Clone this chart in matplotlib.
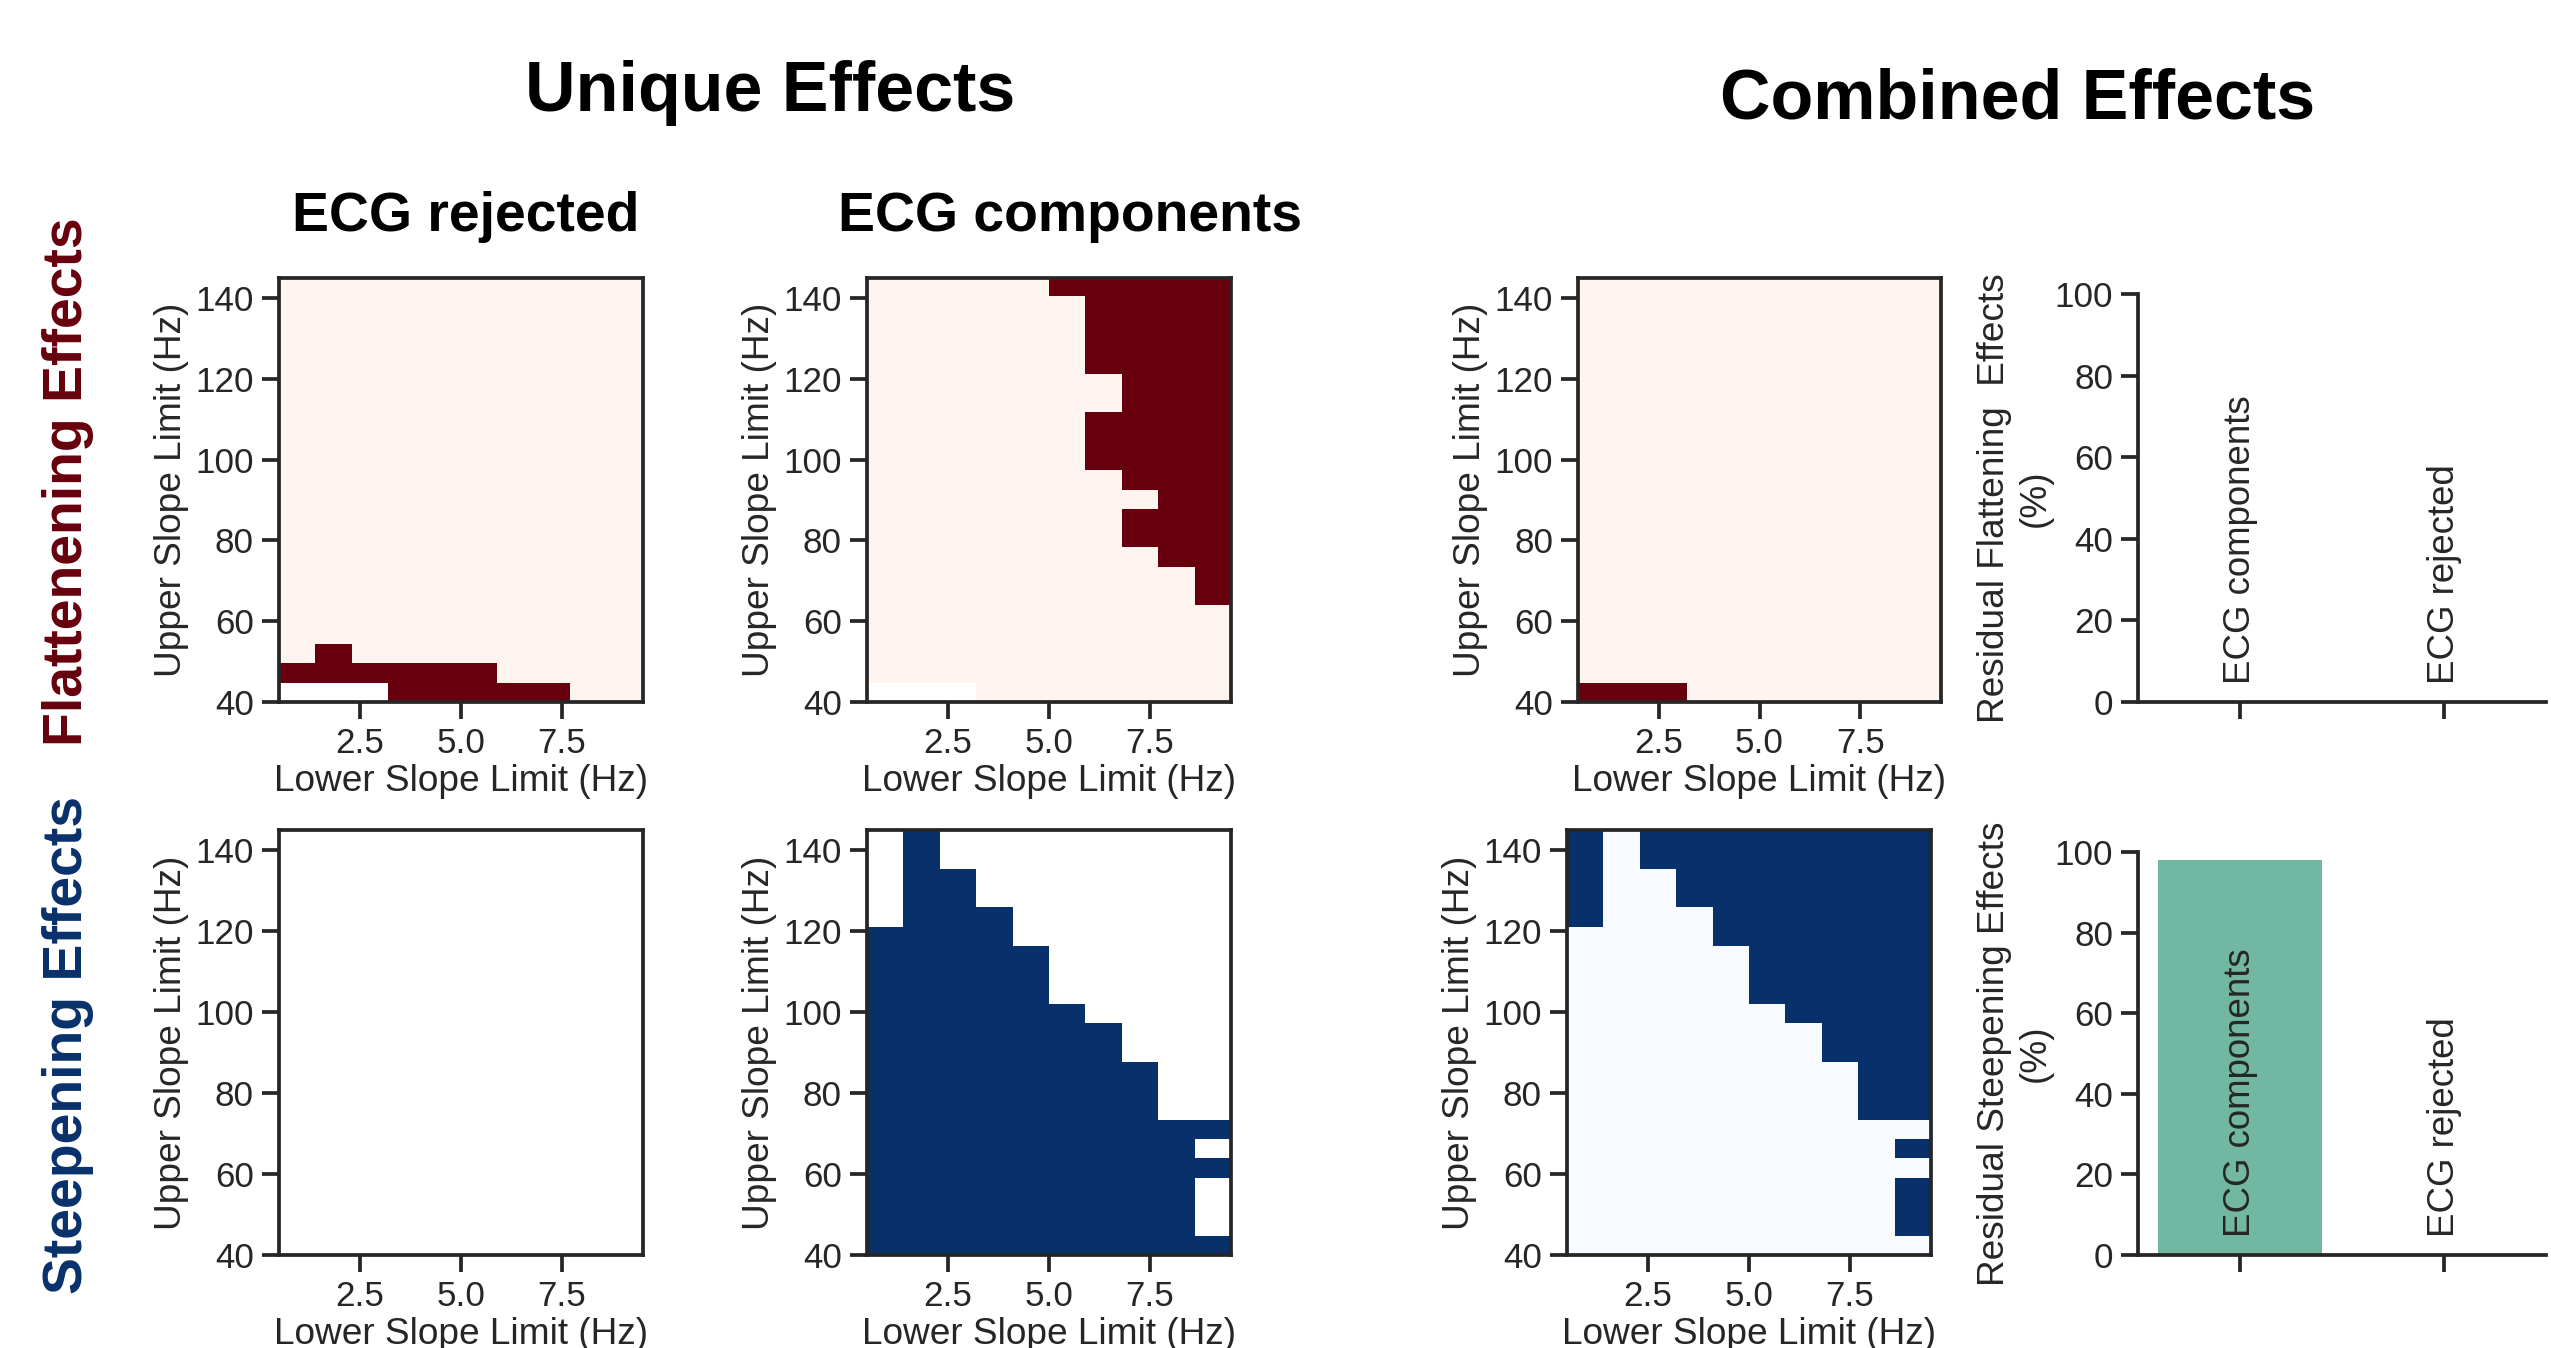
import numpy as np
import matplotlib
matplotlib.use("Agg")
import matplotlib.pyplot as plt

plt.rcParams["font.family"] = ["Liberation Sans", "DejaVu Sans"]

# slope-limit grids: first string = top row (145 Hz), '1' effect, '0' none, '.' no data
LOWER_RANGE = [0.5, 9.5]
UPPER_RANGE = [40, 145]
X_TICKS = [2.5, 5.0, 7.5]
Y_TICKS = [40, 60, 80, 100, 120, 140]

FLAT_REJECTED = ["0000000000"] * 19 + [
    "0100000000",
    "1111110000",
    "...1111100",
]

FLAT_COMPONENTS = [
    "0000011111",
    "0000001111",
    "0000001111",
    "0000001111",
    "0000001111",
    "0000000111",
    "0000000111",
    "0000001111",
    "0000001111",
    "0000001111",
    "0000000111",
    "0000000011",
    "0000000111",
    "0000000111",
    "0000000011",
    "0000000001",
    "0000000001",
    "0000000000",
    "0000000000",
    "0000000000",
    "0000000000",
    "...0000000",
]

FLAT_COMBINED = ["0000000000"] * 21 + ["1110000000"]

STEEP_REJECTED = [".........."] * 22

STEEP_COMPONENTS = [
    ".1........",
    ".1........",
    ".11.......",
    ".11.......",
    ".111......",
    "1111......",
    "11111.....",
    "11111.....",
    "11111.....",
    "111111....",
    "1111111...",
    "1111111...",
    "11111111..",
    "11111111..",
    "11111111..",
    "1111111111",
    "111111111.",
    "1111111111",
    "111111111.",
    "111111111.",
    "111111111.",
    "1111111111",
]

STEEP_COMBINED = [
    "1011111111",
    "1011111111",
    "1001111111",
    "1001111111",
    "1000111111",
    "0000111111",
    "0000011111",
    "0000011111",
    "0000011111",
    "0000001111",
    "0000000111",
    "0000000111",
    "0000000011",
    "0000000011",
    "0000000011",
    "0000000000",
    "0000000001",
    "0000000000",
    "0000000001",
    "0000000001",
    "0000000001",
    "0000000000",
]

BAR_NAMES = ["ECG components", "ECG rejected"]
RESID_FLAT = [0, 0]
RESID_STEEP = [98, 0]

INK = "#262626"
BAR_COLOR = "#71b7a1"


def to_grid(rows):
    vals = {"1": 1.0, "0": 0.0, ".": np.nan}
    return np.array([[vals[ch] for ch in r] for r in rows[::-1]])


W, H = 2551, 1348
fig = plt.figure(figsize=(W / 300, H / 300), dpi=300)


def frac(left, top, right, bottom):
    return [left / W, 1 - bottom / H, (right - left) / W, (bottom - top) / H]


def style_axes(ax):
    for sp in ax.spines.values():
        sp.set_color(INK)
        sp.set_linewidth(0.9)
    ax.tick_params(direction="out", length=4, width=0.9, pad=2,
                   colors=INK, labelsize=8.4)


def heatmap(pos, rows, cmap):
    ax = fig.add_axes(frac(*pos))
    ax.imshow(to_grid(rows), origin="lower", aspect="auto", cmap=cmap,
              vmin=0, vmax=1, interpolation="nearest",
              extent=LOWER_RANGE + UPPER_RANGE)
    ax.set_xlim(*LOWER_RANGE)
    ax.set_ylim(*UPPER_RANGE)
    ax.set_xticks(X_TICKS)
    ax.set_yticks(Y_TICKS)
    ax.set_xlabel("Lower Slope Limit (Hz)", fontsize=8.9, color=INK, labelpad=1.0)
    ax.set_ylabel("Upper Slope Limit (Hz)", fontsize=8.9, color=INK, labelpad=1.5)
    style_axes(ax)
    return ax


def barplot(pos, values, ylabel):
    ax = fig.add_axes(frac(*pos))
    ax.bar(range(len(values)), values, width=0.8, color=BAR_COLOR)
    for i, name in enumerate(BAR_NAMES):
        ax.text(i, 4.5, name, rotation=90, ha="center", va="bottom",
                fontsize=8.8, color=INK)
    ax.set_xlim(-0.5, 1.5)
    ax.set_ylim(0, 100)
    ax.set_xticks(range(len(values)))
    ax.set_xticklabels([])
    ax.set_yticks([0, 20, 40, 60, 80, 100])
    ax.spines["top"].set_visible(False)
    ax.spines["right"].set_visible(False)
    ax.set_ylabel(ylabel, fontsize=8.9, color=INK)
    ax.yaxis.set_label_coords(-0.21, 0.5)
    style_axes(ax)
    return ax


heatmap((279, 278, 643, 702), FLAT_REJECTED, "Reds")
heatmap((867, 278, 1231, 702), FLAT_COMPONENTS, "Reds")
heatmap((1578, 278, 1941, 702), FLAT_COMBINED, "Reds")
heatmap((279, 830, 643, 1255), STEEP_REJECTED, "Blues")
heatmap((867, 830, 1231, 1255), STEEP_COMPONENTS, "Blues")
heatmap((1567, 830, 1931, 1255), STEEP_COMBINED, "Blues")

barplot((2138, 294, 2546, 702), RESID_FLAT, "Residual Flattening  Effects\n(%)")
barplot((2138, 852, 2546, 1255), RESID_STEEP, "Residual Steepening Effects\n(%)")

fig.text(0.3018, 0.918, "Unique Effects", fontsize=16.8, fontweight="bold",
         ha="center", va="baseline")
fig.text(0.7908, 0.912, "Combined Effects", fontsize=16.8, fontweight="bold",
         ha="center", va="baseline")
fig.text(0.1824, 0.8286, "ECG rejected", fontsize=13.3, fontweight="bold",
         ha="center", va="baseline")
fig.text(0.4193, 0.8286, "ECG components", fontsize=13.3, fontweight="bold",
         ha="center", va="baseline")
fig.text(0.0267, 0.643, "Flattenening Effects", fontsize=13.3, fontweight="bold",
         color="#67000d", rotation=90, ha="center", va="center")
fig.text(0.0267, 0.2247, "Steepening Effects", fontsize=13.3, fontweight="bold",
         color="#08306b", rotation=90, ha="center", va="center")

fig.savefig("out.png", dpi=300, facecolor="white")
